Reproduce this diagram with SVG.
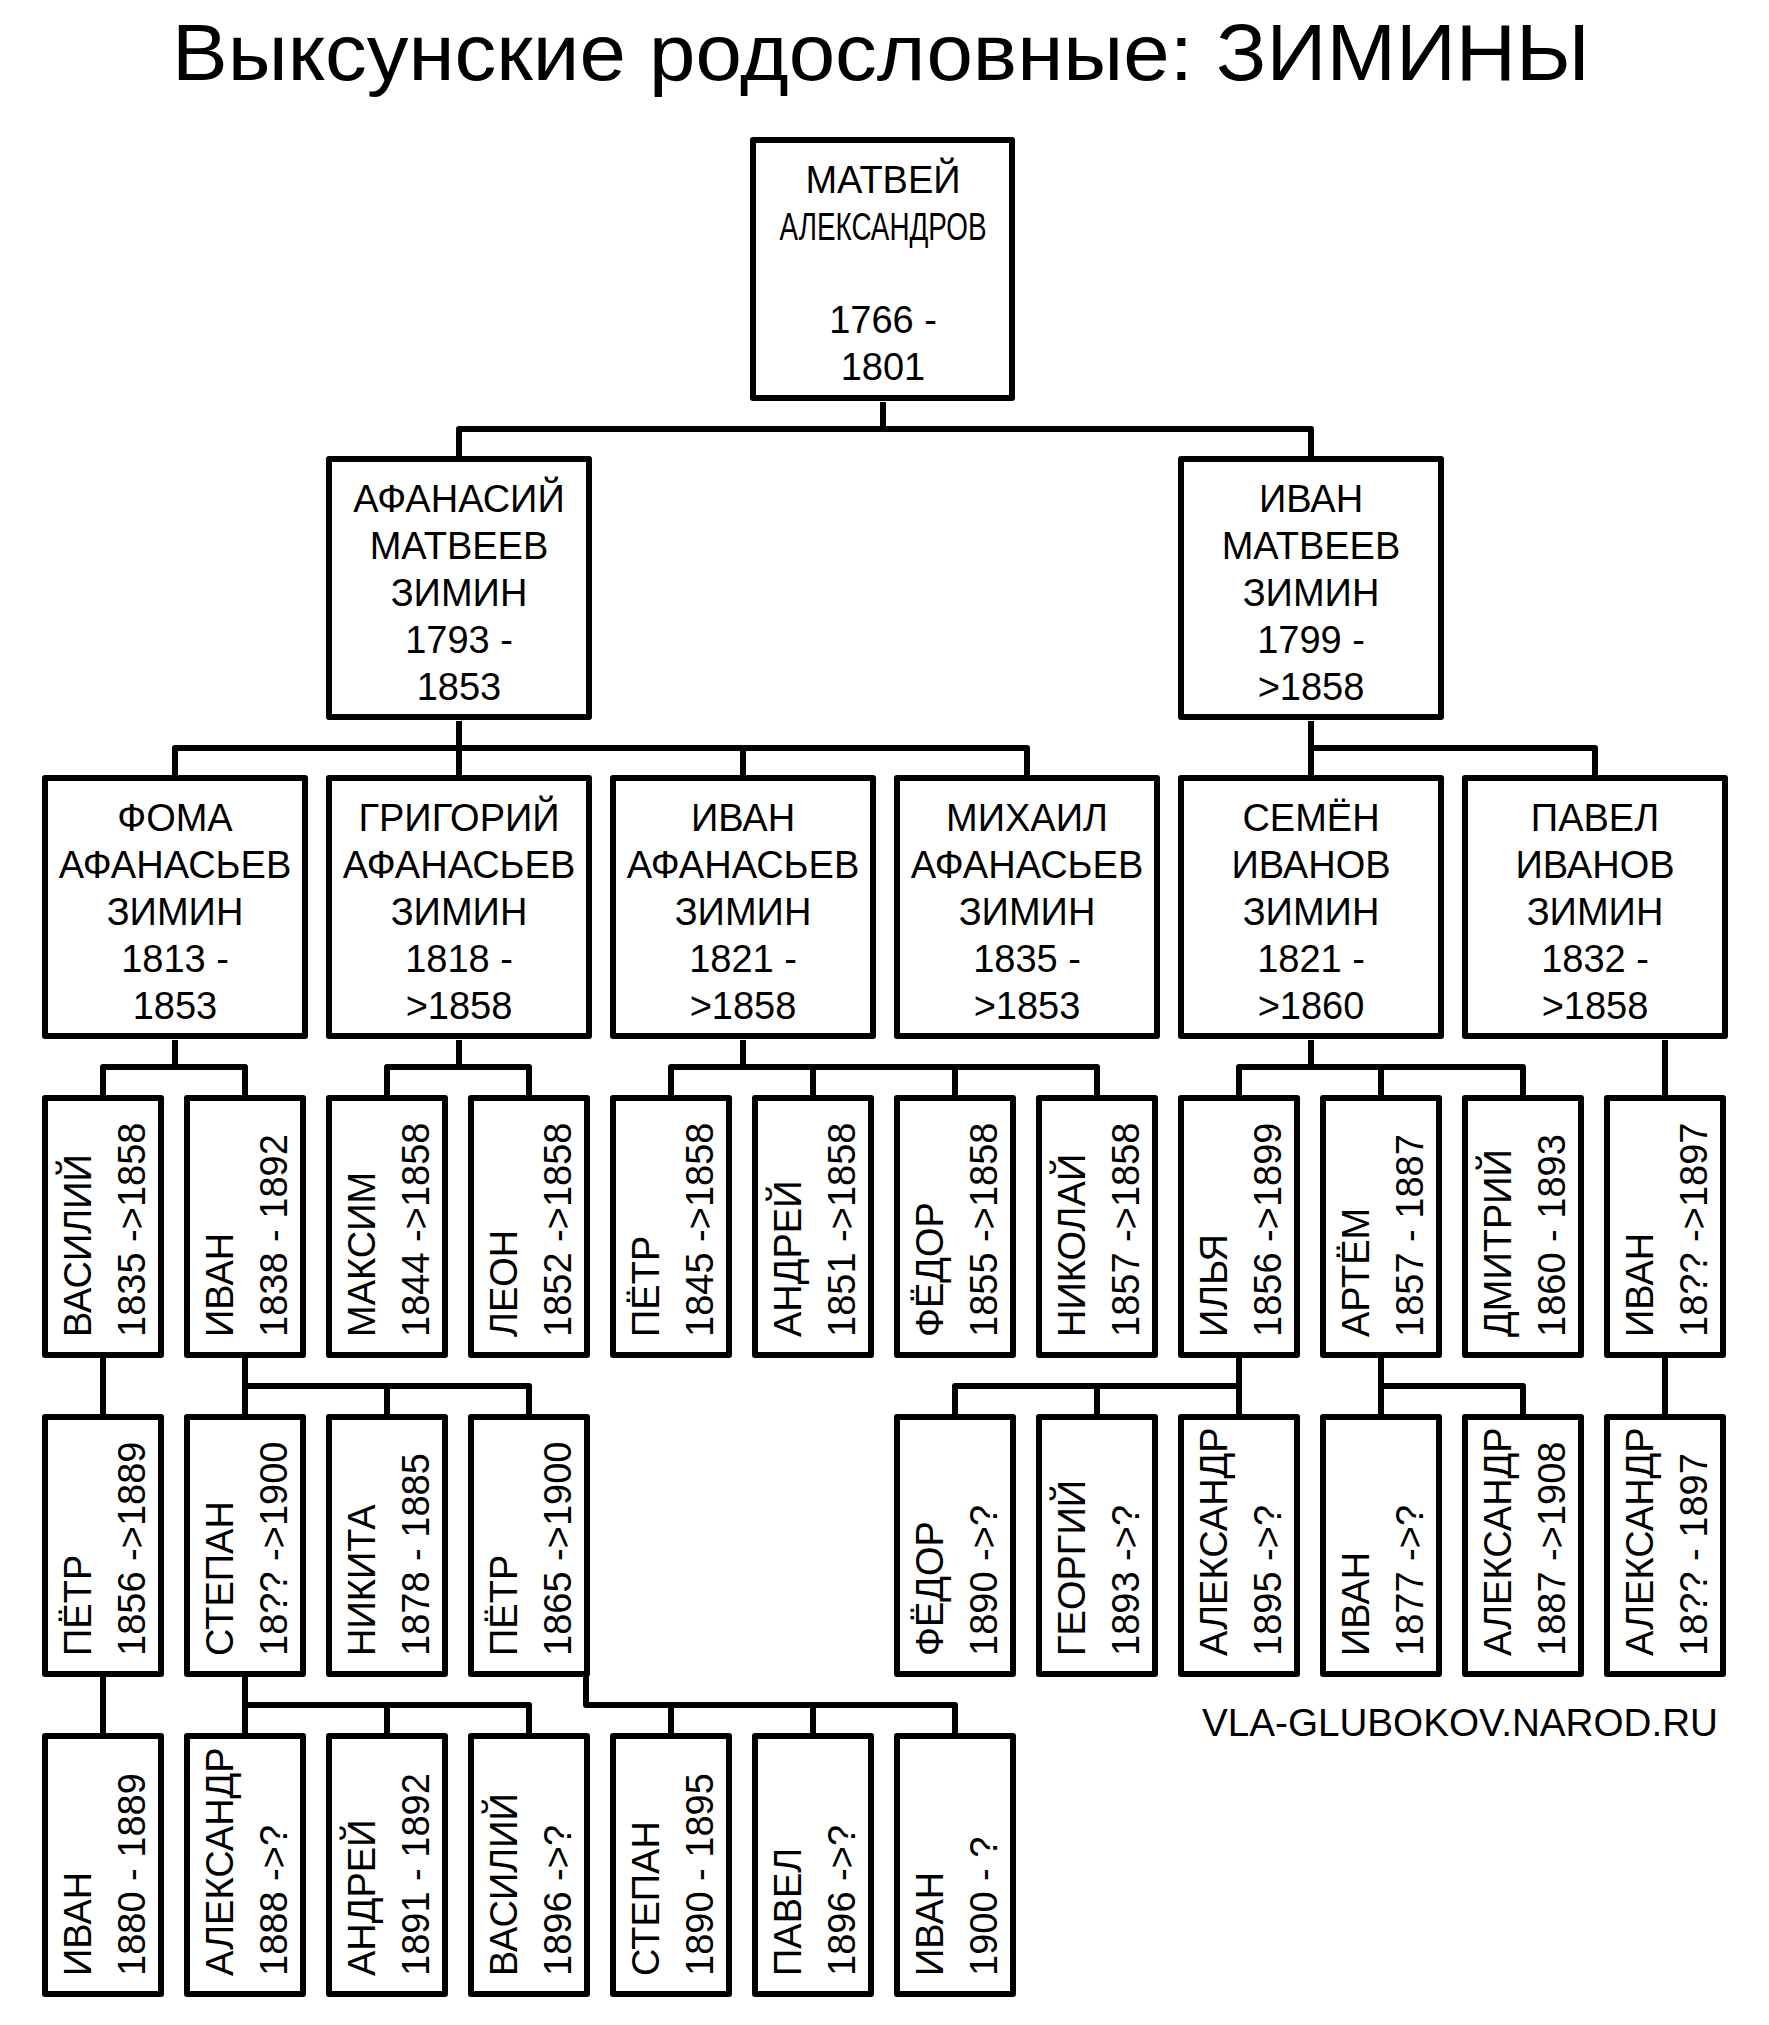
<svg xmlns="http://www.w3.org/2000/svg" width="1769" height="2025" viewBox="0 0 1769 2025">
<style>
.box{fill:#fff;stroke:#000;stroke-width:6;stroke-linejoin:round}
.t{font-family:"Liberation Sans",Arial,sans-serif;font-size:38px;fill:#000}
.c{text-anchor:middle}
.conn{fill:none;stroke:#000;stroke-width:6;stroke-linejoin:round}
</style>
<rect width="1769" height="2025" fill="#fff"/>
<text x="172" y="80" font-family="Liberation Sans,Arial,sans-serif" font-size="80" textLength="1418" lengthAdjust="spacingAndGlyphs">Выксунские родословные: ЗИМИНЫ</text>
<g id="connectors" class="conn">
<path d="M883 402V429M459 456V429H1311V456"/>
<path d="M459 721V748M175 775V748H1027V775M459 748V775M743 748V775"/>
<path d="M1311 721V775M1311 748H1595V775"/>
<path d="M175 1040V1067M103 1095V1067H245V1095"/>
<path d="M459 1040V1067M387 1095V1067H529V1095"/>
<path d="M743 1040V1067M671 1095V1067H1097V1095M813 1067V1095M955 1067V1095"/>
<path d="M1311 1040V1067M1239 1095V1067H1523V1095M1381 1067V1095"/>
<path d="M1665 1040V1095"/>
<path d="M103 1358V1414"/>
<path d="M245 1358V1414M245 1386H529V1414M387 1386V1414"/>
<path d="M1239 1358V1414M955 1414V1386H1239M1097 1386V1414"/>
<path d="M1381 1358V1414M1381 1386H1523V1414"/>
<path d="M1665 1358V1414"/>
<path d="M103 1677V1733"/>
<path d="M245 1677V1733M245 1705H529V1733M387 1705V1733"/>
<path d="M586 1674V1705H955V1733M671 1705V1733M813 1705V1733"/>
</g>
<g id="n-matvey"><rect class="box" x="753" y="140" width="259" height="258"/>
<text class="t c" x="883" y="193">МАТВЕЙ</text><text class="t c" x="883" y="240" font-size="35" textLength="207" lengthAdjust="spacingAndGlyphs">АЛЕКСАНДРОВ</text><text class="t c" x="883" y="333">1766 -</text><text class="t c" x="883" y="380">1801</text></g>
<g id="n-afanasiy"><rect class="box" x="329" y="459" width="260" height="258"/>
<text class="t c" x="459" y="512">АФАНАСИЙ</text><text class="t c" x="459" y="559">МАТВЕЕВ</text><text class="t c" x="459" y="606">ЗИМИН</text><text class="t c" x="459" y="653">1793 -</text><text class="t c" x="459" y="700">1853</text></g>
<g id="n-ivan-m"><rect class="box" x="1181" y="459" width="260" height="258"/>
<text class="t c" x="1311" y="512">ИВАН</text><text class="t c" x="1311" y="559">МАТВЕЕВ</text><text class="t c" x="1311" y="606">ЗИМИН</text><text class="t c" x="1311" y="653">1799 -</text><text class="t c" x="1311" y="700">&gt;1858</text></g>
<g id="n-foma"><rect class="box" x="45" y="778" width="260" height="258"/>
<text class="t c" x="175" y="831">ФОМА</text><text class="t c" x="175" y="878">АФАНАСЬЕВ</text><text class="t c" x="175" y="925">ЗИМИН</text><text class="t c" x="175" y="972">1813 -</text><text class="t c" x="175" y="1019">1853</text></g>
<g id="n-grigoriy"><rect class="box" x="329" y="778" width="260" height="258"/>
<text class="t c" x="459" y="831">ГРИГОРИЙ</text><text class="t c" x="459" y="878">АФАНАСЬЕВ</text><text class="t c" x="459" y="925">ЗИМИН</text><text class="t c" x="459" y="972">1818 -</text><text class="t c" x="459" y="1019">&gt;1858</text></g>
<g id="n-ivan-a"><rect class="box" x="613" y="778" width="260" height="258"/>
<text class="t c" x="743" y="831">ИВАН</text><text class="t c" x="743" y="878">АФАНАСЬЕВ</text><text class="t c" x="743" y="925">ЗИМИН</text><text class="t c" x="743" y="972">1821 -</text><text class="t c" x="743" y="1019">&gt;1858</text></g>
<g id="n-mikhail"><rect class="box" x="897" y="778" width="260" height="258"/>
<text class="t c" x="1027" y="831">МИХАИЛ</text><text class="t c" x="1027" y="878">АФАНАСЬЕВ</text><text class="t c" x="1027" y="925">ЗИМИН</text><text class="t c" x="1027" y="972">1835 -</text><text class="t c" x="1027" y="1019">&gt;1853</text></g>
<g id="n-semen"><rect class="box" x="1181" y="778" width="260" height="258"/>
<text class="t c" x="1311" y="831">СЕМЁН</text><text class="t c" x="1311" y="878">ИВАНОВ</text><text class="t c" x="1311" y="925">ЗИМИН</text><text class="t c" x="1311" y="972">1821 -</text><text class="t c" x="1311" y="1019">&gt;1860</text></g>
<g id="n-pavel-i"><rect class="box" x="1465" y="778" width="260" height="258"/>
<text class="t c" x="1595" y="831">ПАВЕЛ</text><text class="t c" x="1595" y="878">ИВАНОВ</text><text class="t c" x="1595" y="925">ЗИМИН</text><text class="t c" x="1595" y="972">1832 -</text><text class="t c" x="1595" y="1019">&gt;1858</text></g>

<g id="r4-vasiliy"><rect class="box" x="45" y="1098" width="116" height="257"/><text class="t" x="91" y="1337" transform="rotate(-90 91 1337)">ВАСИЛИЙ</text><text class="t" x="145" y="1337" transform="rotate(-90 145 1337)">1835 -&gt;1858</text></g>
<g id="r4-ivan"><rect class="box" x="187" y="1098" width="116" height="257"/><text class="t" x="233" y="1337" transform="rotate(-90 233 1337)">ИВАН</text><text class="t" x="287" y="1337" transform="rotate(-90 287 1337)">1838 - 1892</text></g>
<g id="r4-maksim"><rect class="box" x="329" y="1098" width="116" height="257"/><text class="t" x="375" y="1337" transform="rotate(-90 375 1337)">МАКСИМ</text><text class="t" x="429" y="1337" transform="rotate(-90 429 1337)">1844 -&gt;1858</text></g>
<g id="r4-leon"><rect class="box" x="471" y="1098" width="116" height="257"/><text class="t" x="517" y="1337" transform="rotate(-90 517 1337)">ЛЕОН</text><text class="t" x="571" y="1337" transform="rotate(-90 571 1337)">1852 -&gt;1858</text></g>
<g id="r4-petr"><rect class="box" x="613" y="1098" width="116" height="257"/><text class="t" x="659" y="1337" transform="rotate(-90 659 1337)">ПЁТР</text><text class="t" x="713" y="1337" transform="rotate(-90 713 1337)">1845 -&gt;1858</text></g>
<g id="r4-andrey"><rect class="box" x="755" y="1098" width="116" height="257"/><text class="t" x="801" y="1337" transform="rotate(-90 801 1337)">АНДРЕЙ</text><text class="t" x="855" y="1337" transform="rotate(-90 855 1337)">1851 -&gt;1858</text></g>
<g id="r4-fedor"><rect class="box" x="897" y="1098" width="116" height="257"/><text class="t" x="943" y="1337" transform="rotate(-90 943 1337)">ФЁДОР</text><text class="t" x="997" y="1337" transform="rotate(-90 997 1337)">1855 -&gt;1858</text></g>
<g id="r4-nikolay"><rect class="box" x="1039" y="1098" width="116" height="257"/><text class="t" x="1085" y="1337" transform="rotate(-90 1085 1337)">НИКОЛАЙ</text><text class="t" x="1139" y="1337" transform="rotate(-90 1139 1337)">1857 -&gt;1858</text></g>
<g id="r4-ilya"><rect class="box" x="1181" y="1098" width="116" height="257"/><text class="t" x="1227" y="1337" transform="rotate(-90 1227 1337)">ИЛЬЯ</text><text class="t" x="1281" y="1337" transform="rotate(-90 1281 1337)">1856 -&gt;1899</text></g>
<g id="r4-artem"><rect class="box" x="1323" y="1098" width="116" height="257"/><text class="t" x="1369" y="1337" transform="rotate(-90 1369 1337)">АРТЁМ</text><text class="t" x="1423" y="1337" transform="rotate(-90 1423 1337)">1857 - 1887</text></g>
<g id="r4-dmitriy"><rect class="box" x="1465" y="1098" width="116" height="257"/><text class="t" x="1511" y="1337" transform="rotate(-90 1511 1337)">ДМИТРИЙ</text><text class="t" x="1565" y="1337" transform="rotate(-90 1565 1337)">1860 - 1893</text></g>
<g id="r4-ivan2"><rect class="box" x="1607" y="1098" width="116" height="257"/><text class="t" x="1653" y="1337" transform="rotate(-90 1653 1337)">ИВАН</text><text class="t" x="1707" y="1337" transform="rotate(-90 1707 1337)">18?? -&gt;1897</text></g>

<g id="r5-petr"><rect class="box" x="45" y="1417" width="116" height="257"/><text class="t" x="91" y="1656" transform="rotate(-90 91 1656)">ПЁТР</text><text class="t" x="145" y="1656" transform="rotate(-90 145 1656)">1856 -&gt;1889</text></g>
<g id="r5-stepan"><rect class="box" x="187" y="1417" width="116" height="257"/><text class="t" x="233" y="1656" transform="rotate(-90 233 1656)">СТЕПАН</text><text class="t" x="287" y="1656" transform="rotate(-90 287 1656)">18?? -&gt;1900</text></g>
<g id="r5-nikita"><rect class="box" x="329" y="1417" width="116" height="257"/><text class="t" x="375" y="1656" transform="rotate(-90 375 1656)">НИКИТА</text><text class="t" x="429" y="1656" transform="rotate(-90 429 1656)">1878 - 1885</text></g>
<g id="r5-petr2"><rect class="box" x="471" y="1417" width="116" height="257"/><text class="t" x="517" y="1656" transform="rotate(-90 517 1656)">ПЁТР</text><text class="t" x="571" y="1656" transform="rotate(-90 571 1656)">1865 -&gt;1900</text></g>
<g id="r5-fedor"><rect class="box" x="897" y="1417" width="116" height="257"/><text class="t" x="943" y="1656" transform="rotate(-90 943 1656)">ФЁДОР</text><text class="t" x="997" y="1656" transform="rotate(-90 997 1656)">1890 -&gt;?</text></g>
<g id="r5-georgiy"><rect class="box" x="1039" y="1417" width="116" height="257"/><text class="t" x="1085" y="1656" transform="rotate(-90 1085 1656)">ГЕОРГИЙ</text><text class="t" x="1139" y="1656" transform="rotate(-90 1139 1656)">1893 -&gt;?</text></g>
<g id="r5-aleksandr"><rect class="box" x="1181" y="1417" width="116" height="257"/><text class="t" x="1227" y="1656" transform="rotate(-90 1227 1656)">АЛЕКСАНДР</text><text class="t" x="1281" y="1656" transform="rotate(-90 1281 1656)">1895 -&gt;?</text></g>
<g id="r5-ivan"><rect class="box" x="1323" y="1417" width="116" height="257"/><text class="t" x="1369" y="1656" transform="rotate(-90 1369 1656)">ИВАН</text><text class="t" x="1423" y="1656" transform="rotate(-90 1423 1656)">1877 -&gt;?</text></g>
<g id="r5-aleksandr2"><rect class="box" x="1465" y="1417" width="116" height="257"/><text class="t" x="1511" y="1656" transform="rotate(-90 1511 1656)">АЛЕКСАНДР</text><text class="t" x="1565" y="1656" transform="rotate(-90 1565 1656)">1887 -&gt;1908</text></g>
<g id="r5-aleksandr3"><rect class="box" x="1607" y="1417" width="116" height="257"/><text class="t" x="1653" y="1656" transform="rotate(-90 1653 1656)">АЛЕКСАНДР</text><text class="t" x="1707" y="1656" transform="rotate(-90 1707 1656)">18?? - 1897</text></g>

<g id="r6-ivan"><rect class="box" x="45" y="1736" width="116" height="258"/><text class="t" x="91" y="1976" transform="rotate(-90 91 1976)">ИВАН</text><text class="t" x="145" y="1976" transform="rotate(-90 145 1976)">1880 - 1889</text></g>
<g id="r6-aleksandr"><rect class="box" x="187" y="1736" width="116" height="258"/><text class="t" x="233" y="1976" transform="rotate(-90 233 1976)">АЛЕКСАНДР</text><text class="t" x="287" y="1976" transform="rotate(-90 287 1976)">1888 -&gt;?</text></g>
<g id="r6-andrey"><rect class="box" x="329" y="1736" width="116" height="258"/><text class="t" x="375" y="1976" transform="rotate(-90 375 1976)">АНДРЕЙ</text><text class="t" x="429" y="1976" transform="rotate(-90 429 1976)">1891 - 1892</text></g>
<g id="r6-vasiliy"><rect class="box" x="471" y="1736" width="116" height="258"/><text class="t" x="517" y="1976" transform="rotate(-90 517 1976)">ВАСИЛИЙ</text><text class="t" x="571" y="1976" transform="rotate(-90 571 1976)">1896 -&gt;?</text></g>
<g id="r6-stepan"><rect class="box" x="613" y="1736" width="116" height="258"/><text class="t" x="659" y="1976" transform="rotate(-90 659 1976)">СТЕПАН</text><text class="t" x="713" y="1976" transform="rotate(-90 713 1976)">1890 - 1895</text></g>
<g id="r6-pavel"><rect class="box" x="755" y="1736" width="116" height="258"/><text class="t" x="801" y="1976" transform="rotate(-90 801 1976)">ПАВЕЛ</text><text class="t" x="855" y="1976" transform="rotate(-90 855 1976)">1896 -&gt;?</text></g>
<g id="r6-ivan2"><rect class="box" x="897" y="1736" width="116" height="258"/><text class="t" x="943" y="1976" transform="rotate(-90 943 1976)">ИВАН</text><text class="t" x="997" y="1976" transform="rotate(-90 997 1976)">1900 - ?</text></g>

<text class="t" x="1202" y="1736" font-size="37" textLength="516" lengthAdjust="spacingAndGlyphs">VLA-GLUBOKOV.NAROD.RU</text>
</svg>
